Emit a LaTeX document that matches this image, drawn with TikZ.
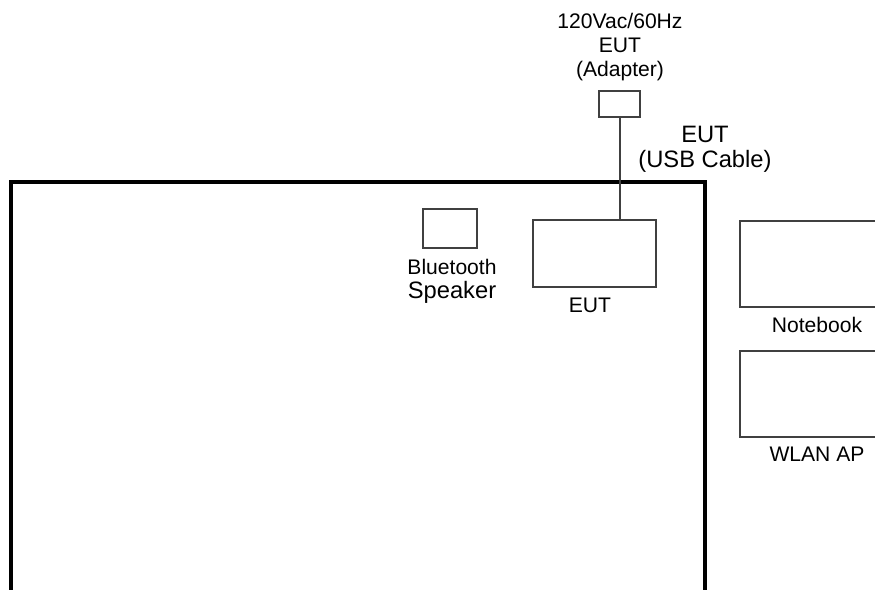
\documentclass[tikz,border=0pt]{standalone}
\usepackage{fontspec}
\setmainfont{Liberation Sans}
\begin{document}
\begin{tikzpicture}[x=0.2mm, y=-0.2mm,
		box/.style 2 args={draw=black!75, line width=0.4mm, minimum width=#1*0.2mm, minimum height=#2*0.2mm, inner sep=0pt},
		lbl/.style={align=center, inner sep=0pt, anchor=north, font=\fontsize{12}{13.7}\selectfont},
		biglbl/.style={lbl, font=\fontsize{13.5}{14.2}\selectfont},
		l_1/.style={draw=black!75, line width=0.4mm},
		room/.style={line width=0.9mm}]
		\useasboundingbox (0,0) rectangle (875,590);
		\clip (0,0) rectangle (875,590);
		% chamber wall
		\draw[room] (11,600) |- (705,182) -- (705,600);
		% equipment
		\node[box={41}{26}] (adapter) at (619.5,104) {};
		\node[box={123}{67}] (eut) at (594.5,253.5) {};
		\node[box={54}{39}] (bt) at (450,228.5) {};
		\node[box={160}{86}] (notebook) at (820,264) {};
		\node[box={160}{86}] (ap) at (820,394) {};
		\draw[l_1] (adapter.south) -- (adapter.south |- eut.north);
		% labels
		\node[lbl] (adapterlbl) at (620,13) {120Vac/60Hz\\EUT\\(Adapter)};
		\node[biglbl] (cablelbl) at (705,125.5) {EUT\\(USB Cable)};
		\node[lbl] (btlbl) at (452,259) {Bluetooth\\{\fontsize{13.5}{14.2}\selectfont Speaker}};
		\node[lbl] (eutlbl) at (590,298) {EUT};
		\node[lbl] (notebooklbl) at (817,317) {Notebook};
		\node[lbl] (aplbl) at (817,447) {WLAN AP};
		\end{tikzpicture}
\end{document}
